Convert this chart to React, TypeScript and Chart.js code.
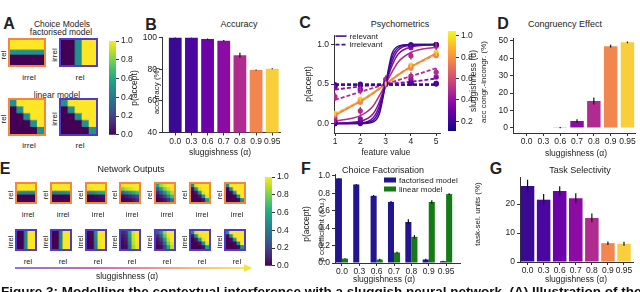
import React, { useEffect, useRef } from "react";
import { Chart, registerables } from "chart.js";
Chart.register(...registerables);

const FONT = "'Liberation Sans', Arial, Helvetica, sans-serif";
Chart.defaults.font.family = FONT;
Chart.defaults.color = "#222";

// ---------------- data ----------------
const alphaLabels = ["0.0", "0.3", "0.6", "0.7", "0.8", "0.9", "0.95"];
const alphaColors = ["#3a0a93", "#4b06a0", "#6c03a8", "#8c0ba5", "#b02b8f", "#f1874e", "#f8cf3a"];

const accuracy = [100, 100, 99, 98, 88.8, 79.5, 80.3];
const accuracyErr = [0.1, 0.1, 0.4, 0.4, 1.5, 0.3, 0.3];
const accuracyTicks = [40, 60, 80, 100];

const congruency = [0, 0, 0.2, 4, 15.5, 47, 49.2];
const congruencyErr = [0, 0, 0.3, 1, 2, 0.8, 0.5];
const congruencyTicks = [0, 10, 20, 30, 40, 50];

const featureValues = [1, 2, 3, 4, 5];
const featureTicks = [1, 2, 3, 4, 5];
const curveX = [1, 2, 2.5, 2.75, 3, 3.25, 3.5, 4, 5];
const relevantCurves = [
  [0, 0, 0.02, 0.12, 0.5, 0.88, 0.98, 1, 1],
  [0, 0.005, 0.04, 0.17, 0.5, 0.83, 0.96, 1, 1],
  [0, 0.01, 0.07, 0.22, 0.5, 0.78, 0.93, 0.99, 1],
  [0.005, 0.03, 0.12, 0.27, 0.5, 0.73, 0.88, 0.97, 1],
  [0.03, 0.1, 0.22, 0.35, 0.5, 0.65, 0.78, 0.9, 0.97],
  [0.1, 0.28, 0.38, 0.44, 0.5, 0.56, 0.62, 0.72, 0.89],
  [0.12, 0.29, 0.39, 0.45, 0.5, 0.55, 0.61, 0.71, 0.88],
];
const irrelevantCurves = [
  [0.49, 0.49, 0.49, 0.49, 0.49, 0.49, 0.49, 0.49, 0.49],
  [0.49, 0.49, 0.49, 0.49, 0.49, 0.49, 0.49, 0.49, 0.49],
  [0.5, 0.5, 0.5, 0.5, 0.5, 0.5, 0.5, 0.5, 0.5],
  [0.43, 0.47, 0.485, 0.49, 0.5, 0.51, 0.515, 0.53, 0.57],
  [0.3, 0.4, 0.45, 0.475, 0.5, 0.525, 0.55, 0.6, 0.7],
  [0.11, 0.28, 0.38, 0.44, 0.5, 0.56, 0.62, 0.72, 0.88],
  [0.12, 0.29, 0.39, 0.45, 0.5, 0.55, 0.61, 0.71, 0.88],
];
const relevantPoints = [
  [0, 0, 0.5, 1, 1],
  [0, 0.01, 0.5, 0.99, 1],
  [0.01, 0.02, 0.5, 0.99, 1],
  [0.02, 0.06, 0.52, 0.96, 1],
  [0.06, 0.16, 0.56, 0.86, 0.98],
  [0.1, 0.27, 0.5, 0.7, 0.86],
  [0.13, 0.31, 0.51, 0.74, 0.9],
];
const irrelevantPoints = [
  [0.49, 0.49, 0.5, 0.51, 0.51],
  [0.49, 0.5, 0.5, 0.51, 0.5],
  [0.48, 0.49, 0.5, 0.52, 0.51],
  [0.46, 0.44, 0.5, 0.56, 0.59],
  [0.34, 0.42, 0.5, 0.6, 0.65],
  [0.11, 0.28, 0.5, 0.72, 0.87],
  [0.12, 0.3, 0.5, 0.73, 0.88],
];
const pointErr = [0.01, 0.01, 0.015, 0.03, 0.05, 0.03, 0.02];
const psychYTicks = [0, 0.5, 1];
const sluggishTicks = [0.2, 0.4, 0.6, 0.8, 1.0];
const pAcceptTicks = [0, 0.2, 0.4, 0.6, 0.8, 1.0];

const betaFactorised = [0.97, 0.9, 0.77, 0.7, 0.47, 0.04, 0.02];
const betaFactorisedErr = [0.005, 0.005, 0.01, 0.01, 0.03, 0.01, 0.005];
const betaLinear = [0.05, 0.0, 0.04, 0.12, 0.3, 0.7, 0.79];
const betaLinearErr = [0.005, 0, 0.01, 0.01, 0.02, 0.02, 0.01];
const betaTicks = [0, 0.2, 0.4, 0.6, 0.8, 1.0];

const taskSelective = [26.2, 21.5, 24.5, 22, 15.2, 6.5, 6.3];
const taskSelectiveErr = [2.2, 2, 1.6, 1.7, 1.5, 0.6, 0.7];
const taskTicks = [0, 10, 20];

// heatmaps: rows listed top -> bottom, columns left -> right
const factorisedRelMap = [
  [1, 1, 1, 1, 1],
  [1, 1, 1, 1, 1],
  [0.5, 0.5, 0.5, 0.5, 0.5],
  [0, 0, 0, 0, 0],
  [0, 0, 0, 0, 0],
];
const factorisedIrrMap = [
  [0, 0, 0.5, 1, 1],
  [0, 0, 0.5, 1, 1],
  [0, 0, 0.5, 1, 1],
  [0, 0, 0.5, 1, 1],
  [0, 0, 0.5, 1, 1],
];
const linearRelMap = [
  [0.5, 1, 1, 1, 1],
  [0, 0.5, 1, 1, 1],
  [0, 0, 0.5, 1, 1],
  [0, 0, 0, 0.5, 1],
  [0, 0, 0, 0, 0.5],
];
const linearIrrMap = [
  [0.5, 1, 1, 1, 1],
  [0, 0.5, 1, 1, 1],
  [0, 0, 0.5, 1, 1],
  [0, 0, 0, 0.5, 1],
  [0, 0, 0, 0, 0.5],
];
const networkRelMaps = [
  [[1, 1, 1, 1, 1], [1, 1, 1, 1, 1], [0.45, 0.45, 0.45, 0.45, 0.45], [0, 0, 0, 0, 0], [0, 0, 0, 0, 0]],
  [[1, 1, 1, 1, 1], [1, 1, 1, 1, 1], [0.4, 0.42, 0.45, 0.47, 0.5], [0, 0, 0, 0, 0.01], [0, 0, 0, 0, 0]],
  [[1, 1, 1, 1, 1], [0.97, 0.98, 1, 1, 1], [0.4, 0.45, 0.5, 0.55, 0.6], [0, 0, 0.02, 0.03, 0.05], [0, 0, 0, 0.01, 0.02]],
  [[0.95, 1, 1, 1, 1], [0.8, 0.88, 0.93, 0.97, 1], [0.3, 0.4, 0.5, 0.6, 0.68], [0.03, 0.06, 0.1, 0.15, 0.22], [0, 0.01, 0.03, 0.06, 0.12]],
  [[0.6, 0.85, 0.95, 1, 1], [0.3, 0.55, 0.8, 0.92, 0.98], [0.1, 0.25, 0.5, 0.72, 0.88], [0.02, 0.08, 0.2, 0.45, 0.7], [0, 0.02, 0.06, 0.15, 0.4]],
  [[0.45, 0.95, 1, 1, 1], [0.05, 0.5, 0.95, 1, 1], [0, 0.05, 0.5, 0.95, 1], [0, 0, 0.05, 0.5, 0.95], [0, 0, 0, 0.05, 0.55]],
  [[0.5, 1, 1, 1, 1], [0.02, 0.5, 1, 1, 1], [0, 0.02, 0.5, 1, 1], [0, 0, 0.02, 0.5, 1], [0, 0, 0, 0.02, 0.5]],
];
const networkIrrMaps = [
  [[0, 0, 0.45, 1, 1], [0, 0, 0.45, 1, 1], [0, 0, 0.45, 1, 1], [0, 0, 0.45, 1, 1], [0, 0, 0.45, 1, 1]],
  [[0, 0, 0.42, 1, 1], [0, 0, 0.43, 1, 1], [0, 0, 0.44, 1, 1], [0, 0, 0.46, 1, 1], [0, 0, 0.47, 1, 1]],
  [[0.02, 0.03, 0.5, 1, 1], [0.01, 0.02, 0.48, 1, 1], [0, 0.02, 0.45, 0.99, 1], [0, 0.01, 0.42, 0.98, 1], [0, 0, 0.4, 0.97, 1]],
  [[0.1, 0.15, 0.6, 0.95, 1], [0.06, 0.1, 0.55, 0.93, 1], [0.04, 0.08, 0.5, 0.92, 1], [0.02, 0.05, 0.42, 0.9, 0.98], [0.01, 0.03, 0.35, 0.85, 0.97]],
  [[0.3, 0.5, 0.85, 1, 1], [0.12, 0.3, 0.75, 0.97, 1], [0.05, 0.15, 0.55, 0.9, 1], [0.02, 0.08, 0.35, 0.8, 0.95], [0, 0.03, 0.2, 0.6, 0.9]],
  [[0.45, 0.95, 1, 1, 1], [0.05, 0.5, 0.95, 1, 1], [0, 0.05, 0.5, 0.95, 1], [0, 0, 0.05, 0.5, 0.95], [0, 0, 0, 0.05, 0.55]],
  [[0.5, 1, 1, 1, 1], [0.02, 0.5, 1, 1, 1], [0, 0.02, 0.5, 1, 1], [0, 0, 0.02, 0.5, 1], [0, 0, 0, 0.02, 0.5]],
];

// ---------------- colour maps ----------------
const viridisStops = ["#440154", "#482475", "#414487", "#355f8d", "#2a788e", "#21918c", "#22a884", "#44bf70", "#7ad151", "#bddf26", "#fde725"];
const plasmaStops = ["#0d0887", "#41049d", "#6a00a8", "#8f0da4", "#b12a90", "#cc4778", "#e16462", "#f2844b", "#fca636", "#fcce25", "#f0f921"];
const ORANGE = "#f2883e";
const BLUE = "#4e3cc8";
const AX = "#333";

function hexToRgb(h: string) {
  const n = parseInt(h.slice(1), 16);
  return [(n >> 16) & 255, (n >> 8) & 255, n & 255];
}
function cmap(stops: string[], t: number) {
  const v = Math.max(0, Math.min(1, t)) * (stops.length - 1);
  const i = Math.min(stops.length - 2, Math.floor(v));
  const f = v - i;
  const a = hexToRgb(stops[i]);
  const b = hexToRgb(stops[i + 1]);
  const c = a.map((x, k) => Math.round(x + (b[k] - x) * f));
  return `rgb(${c[0]},${c[1]},${c[2]})`;
}
const viridis = (t: number) => cmap(viridisStops, t);

// ---------------- plugins ----------------
const errorBarPlugin = {
  id: "errorBars",
  afterDatasetsDraw(chart: any) {
    const { ctx } = chart;
    chart.data.datasets.forEach((ds: any, di: number) => {
      if (!ds.errors) return;
      const meta = chart.getDatasetMeta(di);
      const ys = chart.scales[meta.yAxisID];
      meta.data.forEach((el: any, i: number) => {
        const e = ds.errors[i];
        if (!e) return;
        const raw = ds.data[i];
        const v = typeof raw === "number" ? raw : raw.y;
        ctx.save();
        ctx.strokeStyle = ds.errorColor || "#111";
        ctx.lineWidth = ds.errorWidth || 1.2;
        ctx.beginPath();
        ctx.moveTo(el.x, ys.getPixelForValue(v - e));
        ctx.lineTo(el.x, ys.getPixelForValue(v + e));
        ctx.stroke();
        ctx.restore();
      });
    });
  },
};

type LegItem = { label: string; color: string; kind: "line" | "rect"; dash?: number[] };
function cornerLegend(items: LegItem[], ox: number, oy: number, lineH: number, symW: number, symH: number) {
  return {
    id: "cornerLegend",
    afterDatasetsDraw(chart: any) {
      const { ctx, chartArea } = chart;
      ctx.save();
      ctx.font = `8px ${FONT}`;
      ctx.textBaseline = "middle";
      items.forEach((it, i) => {
        const x = chartArea.left + ox;
        const y = chartArea.top + oy + i * lineH;
        if (it.kind === "rect") {
          ctx.fillStyle = it.color;
          ctx.fillRect(x, y - symH / 2, symW, symH);
        } else {
          ctx.strokeStyle = it.color;
          ctx.lineWidth = 1.6;
          ctx.setLineDash(it.dash || []);
          ctx.beginPath();
          ctx.moveTo(x, y);
          ctx.lineTo(x + symW, y);
          ctx.stroke();
          ctx.setLineDash([]);
        }
        ctx.fillStyle = "#222";
        ctx.fillText(it.label, x + symW + 3, y + 0.5);
      });
      ctx.restore();
    },
  };
}

// ---------------- helpers ----------------
function base(padding: any) {
  return {
    responsive: false,
    maintainAspectRatio: false,
    animation: false,
    devicePixelRatio: 1,
    events: [],
    layout: { padding },
    plugins: { legend: { display: false }, tooltip: { enabled: false }, title: { display: false } },
  };
}
const tickFont = { size: 8.5, family: FONT };

function yAxis(min: number, max: number, ticks: number[], fmt: (v: number) => string, width: number) {
  return {
    type: "linear",
    min,
    max,
    afterBuildTicks: (s: any) => {
      s.ticks = ticks.map((v) => ({ value: v }));
    },
    afterFit: (s: any) => {
      s.width = width;
    },
    ticks: { callback: (v: any) => fmt(Number(v)), font: tickFont, color: "#222", padding: 2 },
    grid: { drawOnChartArea: false, drawTicks: true, tickLength: 3, color: AX, tickColor: AX, tickWidth: 1 },
    border: { display: true, color: AX, width: 1 },
  };
}
function xIndexAxis(min: number, max: number, values: number[], labels: string[], height: number) {
  return {
    type: "linear",
    min,
    max,
    offset: false,
    afterBuildTicks: (s: any) => {
      s.ticks = values.map((v) => ({ value: v }));
    },
    afterFit: (s: any) => {
      s.height = height;
    },
    ticks: {
      callback: (v: any) => {
        const i = values.indexOf(Number(v));
        return i >= 0 ? labels[i] : "";
      },
      font: tickFont,
      color: "#222",
      padding: 1,
      maxRotation: 0,
      autoSkip: false,
    },
    grid: { offset: false, drawOnChartArea: false, drawTicks: true, tickLength: 3, color: AX, tickColor: AX },
    border: { display: true, color: AX, width: 1 },
  };
}
const idx = alphaLabels.map((_, i) => i);

function barChart(values: number[], errs: number[], xmin: number, xmax: number, yScale: any, pad: any, barPct: number) {
  return {
    type: "bar",
    data: {
      datasets: [
        {
          data: values.map((v, i) => ({ x: i, y: v })),
          errors: errs,
          backgroundColor: alphaColors,
          borderWidth: 0,
          barPercentage: barPct,
          categoryPercentage: 1,
        },
      ],
    },
    options: { ...base(pad), scales: { x: xIndexAxis(xmin, xmax, idx, alphaLabels, 14), y: yScale } },
    plugins: [errorBarPlugin],
  };
}

function heatmapConfig(matrix: number[][]) {
  const rows = matrix.length;
  const datasets: any[] = [];
  for (let k = 0; k < rows; k++) {
    const row = matrix[rows - 1 - k];
    datasets.push({
      data: row.map(() => 1),
      backgroundColor: row.map(viridis),
      borderWidth: 0,
      barPercentage: 1,
      categoryPercentage: 1,
      inflateAmount: 0.4,
    });
  }
  return {
    type: "bar",
    data: { labels: matrix[0].map((_, i) => String(i + 1)), datasets },
    options: {
      ...base(0),
      scales: { x: { display: false, stacked: true }, y: { display: false, stacked: true, min: 0, max: rows } },
    },
  };
}

function colorbarConfig(stops: string[], min: number, max: number, ticks: number[], axisW: number, pad: any) {
  return {
    type: "bar",
    data: {
      labels: [""],
      datasets: [
        {
          data: [[min, max]],
          backgroundColor: (c: any) => {
            const a = c.chart.chartArea;
            if (!a) return stops[0];
            const g = c.chart.ctx.createLinearGradient(0, a.bottom, 0, a.top);
            stops.forEach((s, i) => g.addColorStop(i / (stops.length - 1), s));
            return g;
          },
          borderWidth: 0,
          barPercentage: 1,
          categoryPercentage: 1,
        },
      ],
    },
    options: {
      ...base(pad),
      scales: {
        x: { display: false },
        y: {
          position: "right",
          min,
          max,
          afterBuildTicks: (s: any) => {
            s.ticks = ticks.map((v) => ({ value: v }));
          },
          afterFit: (s: any) => {
            s.width = axisW;
          },
          ticks: { callback: (v: any) => Number(v).toFixed(1), font: tickFont, color: "#222", padding: 2 },
          grid: { drawOnChartArea: false, drawTicks: true, tickLength: 3, color: AX, tickColor: AX },
          border: { display: false },
        },
      },
    },
  };
}

function psychConfig() {
  const datasets: any[] = [];
  alphaColors.forEach((col, i) => {
    datasets.push({
      data: relevantPoints[i].map((y, j) => ({ x: featureValues[j], y })),
      errors: relevantPoints[i].map(() => pointErr[i]),
      errorColor: col,
      errorWidth: 1.4,
      pointRadius: 2.6,
      pointBackgroundColor: col,
      pointBorderWidth: 0,
      showLine: false,
    });
    datasets.push({
      data: irrelevantPoints[i].map((y, j) => ({ x: featureValues[j], y })),
      errors: irrelevantPoints[i].map(() => pointErr[i]),
      errorColor: col,
      errorWidth: 1.4,
      pointRadius: 2.6,
      pointBackgroundColor: col,
      pointBorderWidth: 0,
      showLine: false,
    });
    datasets.push({
      data: curveX.map((x, j) => ({ x, y: relevantCurves[i][j] })),
      showLine: true,
      borderColor: col,
      borderWidth: 1.5,
      pointRadius: 0,
      cubicInterpolationMode: "monotone",
    });
    datasets.push({
      data: curveX.map((x, j) => ({ x, y: irrelevantCurves[i][j] })),
      showLine: true,
      borderColor: col,
      borderWidth: 1.8,
      borderDash: [4, 2],
      pointRadius: 0,
      cubicInterpolationMode: "monotone",
    });
  });
  return {
    type: "scatter",
    data: { datasets },
    options: {
      ...base({ left: 9, top: 7, right: 5, bottom: 6 }),
      scales: {
        x: xIndexAxis(0.96, 5.15, featureTicks, featureTicks.map(String), 14),
        y: yAxis(-0.12, 1.12, psychYTicks, (v) => v.toFixed(1), 20),
      },
    },
    plugins: [
      errorBarPlugin,
      cornerLegend(
        [
          { label: "relevant", color: "#3b14a8", kind: "line" },
          { label: "irrelevant", color: "#3b14a8", kind: "line", dash: [4, 2] },
        ],
        1.5,
        1,
        8.5,
        11,
        0
      ),
    ],
  };
}

function factorConfig() {
  return {
    type: "bar",
    data: {
      datasets: [
        {
          label: "factorised model",
          data: betaFactorised.map((v, i) => ({ x: i, y: v })),
          errors: betaFactorisedErr,
          backgroundColor: "#21168f",
          borderWidth: 0,
          barPercentage: 1,
          categoryPercentage: 0.7,
        },
        {
          label: "linear model",
          data: betaLinear.map((v, i) => ({ x: i, y: v })),
          errors: betaLinearErr,
          backgroundColor: "#167a16",
          borderWidth: 0,
          barPercentage: 1,
          categoryPercentage: 0.7,
        },
      ],
    },
    options: {
      ...base({ left: 7, top: 9, right: 5, bottom: 15 }),
      scales: {
        x: xIndexAxis(-0.4, 6.8, idx, alphaLabels, 14),
        y: yAxis(0, 1.02, betaTicks, (v) => v.toFixed(1), 18),
      },
    },
    plugins: [
      errorBarPlugin,
      cornerLegend(
        [
          { label: "factorised model", color: "#21168f", kind: "rect" },
          { label: "linear model", color: "#167a16", kind: "rect" },
        ],
        49,
        6,
        9,
        12,
        5
      ),
    ],
  };
}

// ---------------- components ----------------
function ChartBox({ x, y, w, h, make, border }: any) {
  const ref = useRef<HTMLCanvasElement>(null);
  useEffect(() => {
    const c = new Chart(ref.current as HTMLCanvasElement, make());
    return () => c.destroy();
  }, []);
  const bw = border ? 2 : 0;
  return (
    <canvas
      ref={ref}
      width={w - 2 * bw}
      height={h - 2 * bw}
      style={{
        position: "absolute",
        left: x,
        top: y,
        width: w - 2 * bw,
        height: h - 2 * bw,
        border: border ? `${bw}px solid ${border}` : undefined,
        display: "block",
      }}
    />
  );
}

function T({ x, y, s = 8.5, b = false, rot = false, children }: any) {
  return (
    <div
      style={{
        position: "absolute",
        left: x,
        top: y,
        transform: `translate(-50%,-50%)${rot ? " rotate(-90deg)" : ""}`,
        fontSize: s,
        fontWeight: b ? 700 : 400,
        whiteSpace: "nowrap",
        lineHeight: 1,
        color: "#222",
      }}
    >
      {children}
    </div>
  );
}

const eLefts = [15, 50, 85, 119, 154, 189, 224];

export default function App() {
  return (
    <div
      style={{
        position: "absolute",
        left: 0,
        top: 0,
        width: 640,
        height: 292,
        overflow: "hidden",
        background: "#fff",
        fontFamily: FONT,
      }}
    >
      {/* Panel letters */}
      <T x={9} y={24} s={16} b>A</T>
      <T x={151} y={25} s={16} b>B</T>
      <T x={305} y={23} s={16} b>C</T>
      <T x={503} y={24} s={16} b>D</T>
      <T x={5} y={169} s={16} b>E</T>
      <T x={306} y={169} s={16} b>F</T>
      <T x={496} y={169} s={16} b>G</T>

      {/* Panel A */}
      <T x={62} y={24} s={8.5}>Choice Models</T>
      <T x={61} y={32} s={8.5}>factorised model</T>
      <T x={57} y={95} s={8.5}>linear model</T>
      <ChartBox x={8} y={38} w={42} h={33} border={ORANGE} make={() => heatmapConfig(factorisedRelMap)} />
      <ChartBox x={59} y={38} w={43} h={33} border={BLUE} make={() => heatmapConfig(factorisedIrrMap)} />
      <ChartBox x={8} y={98} w={42} h={42} border={ORANGE} make={() => heatmapConfig(linearRelMap)} />
      <ChartBox x={59} y={98} w={43} h={42} border={BLUE} make={() => heatmapConfig(linearIrrMap)} />
      <T x={4} y={55} s={8} rot>rel</T>
      <T x={29} y={78} s={8}>irrel</T>
      <T x={55} y={55} s={8} rot>irrel</T>
      <T x={80} y={78} s={8}>rel</T>
      <T x={4} y={119} s={8} rot>rel</T>
      <T x={29} y={146} s={8}>irrel</T>
      <T x={55} y={119} s={8} rot>irrel</T>
      <T x={80} y={146} s={8}>rel</T>
      <ChartBox x={107} y={34} w={30} h={108} make={() => colorbarConfig(viridisStops, 0, 1, pAcceptTicks, 21, { left: 2, top: 5, bottom: 5, right: 0 })} />
      <T x={134} y={88} s={8.5} rot>p(accept)</T>

      {/* Panel B */}
      <T x={239} y={24} s={9}>Accuracy</T>
      <ChartBox
        x={135}
        y={30}
        w={155}
        h={125}
        make={() =>
          barChart(accuracy, accuracyErr, -0.82, 6.48, yAxis(40, 100, accuracyTicks, (v) => String(v), 20), { left: 7, top: 7.5, right: 10, bottom: 8.5 }, 0.79)
        }
      />
      <T x={157} y={91} s={8} rot>accuracy (%)</T>
      <T x={220} y={152} s={8.5}>sluggishness (α)</T>

      {/* Panel C */}
      <T x={400} y={24} s={9}>Psychometrics</T>
      <ChartBox x={305} y={28} w={140} h={125} make={psychConfig} />
      <T x={308} y={84} s={8.5} rot>p(accept)</T>
      <T x={386} y={152} s={8.5}>feature value</T>
      <ChartBox x={446} y={24} w={30} h={114} make={() => colorbarConfig(plasmaStops, 0.11, 1.045, sluggishTicks, 20, { left: 2, top: 5, bottom: 5, right: 0 })} />
      <T x={473} y={81} s={8.5} rot>sluggishness (α)</T>

      {/* Panel D */}
      <T x={565} y={24} s={9}>Congruency Effect</T>
      <ChartBox
        x={488}
        y={30}
        w={152}
        h={125}
        make={() =>
          barChart(congruency, congruencyErr, -0.81, 6.45, yAxis(-2.9, 51.7, congruencyTicks, (v) => String(v), 16), { left: 9, top: 8, right: 5, bottom: 8 }, 0.8)
        }
      />
      <T x={484} y={82} s={8} rot>acc congr.-incongr. (%)</T>
      <T x={576} y={153} s={8.5}>sluggishness (α)</T>

      {/* Panel E */}
      <T x={131} y={169} s={9}>Network Outputs</T>
      {eLefts.map((lx, i) => (
        <React.Fragment key={"e" + i}>
          <ChartBox x={lx} y={182} w={26} h={26} border={ORANGE} make={() => heatmapConfig(networkRelMaps[i])} />
          <ChartBox x={lx} y={229} w={26} h={26} border={BLUE} make={() => heatmapConfig(networkIrrMaps[i])} />
          <T x={lx - 4} y={195} s={7.5} rot>rel</T>
          <T x={lx + 13} y={215} s={7.5}>irrel</T>
          <T x={lx - 4} y={242} s={7.5} rot>irrel</T>
          <T x={lx + 13} y={262} s={7.5}>rel</T>
        </React.Fragment>
      ))}
      <svg style={{ position: "absolute", left: 12, top: 263 }} width={246} height={10}>
        <defs>
          <linearGradient id="sluggGrad" x1="0" x2="1" y1="0" y2="0">
            <stop offset="0" stopColor="#7453c8" />
            <stop offset="0.35" stopColor="#b44aa8" />
            <stop offset="0.6" stopColor="#e87a7a" />
            <stop offset="0.8" stopColor="#f7ae5a" />
            <stop offset="1" stopColor="#f6e33a" />
          </linearGradient>
        </defs>
        <rect x={3} y={4.2} width={230} height={1.6} fill="url(#sluggGrad)" />
        <polygon points="232,1 240,5 232,9" fill="#f6e33a" />
      </svg>
      <T x={127} y={276} s={8.5}>sluggishness (α)</T>
      <ChartBox x={263} y={170} w={30} h={103} make={() => colorbarConfig(viridisStops, 0, 1, pAcceptTicks, 21, { left: 2, top: 5, bottom: 5, right: 0 })} />
      <T x={306} y={224} s={8.5} rot>p(accept)</T>

      {/* Panel F */}
      <T x={383} y={170} s={9}>Choice Factorisation</T>
      <ChartBox x={310} y={165} w={155} h={127} make={factorConfig} />
      <T x={322} y={230} s={8} rot>β coefficient (a.u.)</T>
      <T x={384} y={279} s={8.5}>sluggishness (α)</T>

      {/* Panel G */}
      <T x={580} y={170} s={9}>Task Selectivity</T>
      <ChartBox
        x={495}
        y={170}
        w={145}
        h={122}
        make={() =>
          barChart(taskSelective, taskSelectiveErr, -0.47, 6.56, yAxis(0, 29.3, taskTicks, (v) => String(v), 16), { left: 9, top: 7, right: 7, bottom: 16 }, 0.84)
        }
      />
      <T x={478} y={214} s={8} rot>task-sel. units (%)</T>
      <T x={576} y={279} s={8.5}>sluggishness (α)</T>

      {/* caption (cut off at the bottom edge) */}
      <div style={{ position: "absolute", left: 1, top: 284.5, fontSize: 13.5, fontWeight: 700, whiteSpace: "nowrap", lineHeight: 1, color: "#111" }}>
        Figure 3: Modelling the contextual interference with a sluggish neural network. (A) Illustration of the
      </div>
    </div>
  );
}
